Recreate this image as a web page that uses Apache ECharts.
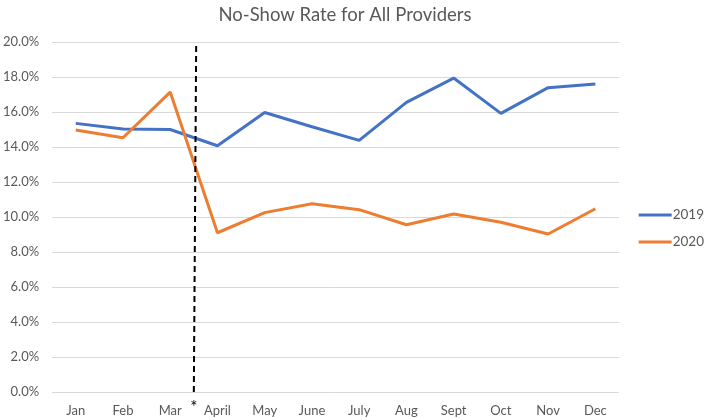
<!DOCTYPE html>
<html>
<head>
<meta charset="utf-8">
<script src="https://cdn.jsdelivr.net/npm/echarts@6/dist/echarts.min.js"></script>
<style>html,body{margin:0;padding:0;background:#fff;}#c{width:709px;height:418px;}</style>
</head>
<body>
<div id="c"></div>
<script>
const categories = ['Jan','Feb','Mar','April','May','June','July','Aug','Sept','Oct','Nov','Dec'];
const values2019 = [15.35, 15.03, 15.0, 14.07, 15.97, 15.16, 14.38, 16.55, 17.94, 15.92, 17.39, 17.6];
const values2020 = [14.97, 14.53, 17.14, 9.1, 10.25, 10.76, 10.42, 9.56, 10.17, 9.7, 9.03, 10.47];
const yTicks = { min: 0, max: 20, interval: 2 };
const cutoffStart = [3.0, 0];
const cutoffEnd = [3.05, 20];

const FONT = 'Lato, "Open Sans", sans-serif';
const chart = echarts.init(document.getElementById('c'), null, { renderer: 'canvas' });
chart.setOption({
  animation: false,
  backgroundColor: '#ffffff',
  textStyle: { fontFamily: FONT },
  title: {
    text: 'No-Show Rate for All Providers',
    left: 340, top: 1, textAlign: 'center',
    textStyle: { fontFamily: FONT, fontSize: 18.5, fontWeight: 'normal', color: '#595959' }
  },
  grid: { left: 48, right: 90, top: 42, bottom: 26, containLabel: false },
  legend: {
    orient: 'vertical', right: 0, top: 203,
    data: ['2019', '2020'],
    icon: 'rect',
    itemWidth: 33, itemHeight: 3, itemGap: 13,
    textStyle: { fontFamily: FONT, fontSize: 13.5, color: '#595959', padding: [0, 0, 0, -4] }
  },
  xAxis: [{
    type: 'category', data: categories, boundaryGap: true,
    axisLine: { show: false }, axisTick: { show: false },
    axisLabel: { fontFamily: FONT, fontSize: 13, color: '#595959', margin: 12 }
  }, {
    type: 'value', min: 0, max: 12, show: false
  }],
  yAxis: {
    type: 'value', min: yTicks.min, max: yTicks.max, interval: yTicks.interval,
    axisLine: { show: false }, axisTick: { show: false },
    axisLabel: { fontFamily: FONT, fontSize: 13, color: '#595959', margin: 13,
      formatter: v => v.toFixed(1) + '%' },
    splitLine: { lineStyle: { color: '#d9d9d9', width: 1 } }
  },
  series: [{
    name: '2019', type: 'line', data: values2019, symbol: 'none',
    lineStyle: { color: '#4472C4', width: 3 }, itemStyle: { color: '#4472C4' }
  }, {
    name: '2020', type: 'line', data: values2020, symbol: 'none',
    lineStyle: { color: '#ED7D31', width: 3 }, itemStyle: { color: '#ED7D31' }
  }, {
    name: 'cutoff', type: 'line', xAxisIndex: 1, data: [cutoffStart], symbol: 'none',
    lineStyle: { opacity: 0 }, silent: true,
    markLine: {
      symbol: ['none', 'none'], silent: true,
      lineStyle: { color: '#000000', type: [6, 4], width: 2 },
      label: { show: true, position: 'start', formatter: '*', color: '#000', fontSize: 17, distance: 7 },
      data: [[{ coord: cutoffStart }, { coord: cutoffEnd }]]
    }
  }]
});
</script>
</body>
</html>
